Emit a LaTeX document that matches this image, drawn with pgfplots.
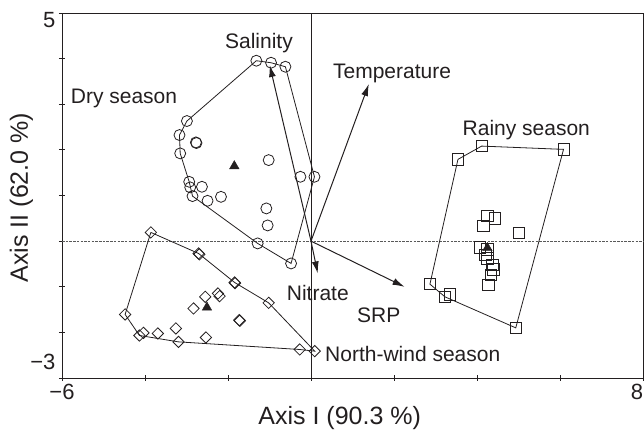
\documentclass[border=0pt]{standalone}
\usepackage{pgfplots}
\pgfplotsset{compat=1.18}
\usepackage{fontspec}
\setmainfont{Liberation Sans}
\usetikzlibrary{arrows.meta}
\definecolor{ink}{RGB}{35,31,32}
\begin{document}
\begin{tikzpicture}
\useasboundingbox (-62pt,-52pt) rectangle (582pt,378pt);
\begin{axis}[
  at={(0pt,0pt)}, anchor=south west,
  scale only axis, width=581pt, height=365pt,
  xmin=-6, xmax=8, ymin=-3, ymax=5,
  xtick={-6,-4,-2,0,2,4,6,8}, xticklabels={−6,,,,,,,\makebox[0pt][r]{8}},
  ytick={-3,-2,-1,0,1,2,3,4,5}, yticklabels={\raisebox{8pt}[0pt][0pt]{−3},,,,,,,,\raisebox{-14pt}[0pt][0pt]{5}},
  tick align=center, xtick pos=bottom, ytick pos=left, major tick length=6pt,
  tick style={ink, line width=0.8pt},
  axis line style={ink, line width=0.9pt},
  ticklabel style={font=\fontsize{22}{26}\selectfont, text=ink},
  xlabel={Axis I (90.3 \%)}, ylabel={Axis II (62.0 \%)},
  label style={font=\fontsize{25}{30}\selectfont, text=ink},
  xlabel style={at={(axis description cs:0.478,0)}, anchor=base, yshift=-47pt},
  ylabel style={at={(axis description cs:-0.0697,0.4945)}, anchor=center},
  clip=false,
]
% reference lines
\addplot[gray!70!black, line width=1pt, dash pattern=on 2.5pt off 1.2pt] coordinates {(-6,0) (8,0)};
\addplot[ink, line width=0.8pt] coordinates {(0,-3) (0,5)};

% hulls
\addplot[ink, line width=0.8pt] coordinates {
 (-1.317,3.954) (-2.99,2.632) (-3.169,2.325) (-3.152,1.923) (-2.935,1.300) (-2.855,0.987)
 (-1.286,-0.05) (-0.48,-0.489) (0.083,1.410) (-0.617,3.822) (-0.963,3.910) (-1.317,3.954)};
\addplot[ink, line width=0.8pt] coordinates {
 (-3.859,0.191) (-2.71,-0.27) (-1.841,-0.906) (-1.02,-1.353) (0.09,-2.412) (-0.272,-2.375)
 (-3.193,-2.208) (-4.134,-2.068) (-4.479,-1.607) (-3.859,0.191)};
\addplot[ink, line width=0.8pt] coordinates {
 (3.541,1.792) (4.113,2.083) (6.085,2.011) (4.934,-1.901) (3.228,-1.221) (2.866,-0.943) (3.541,1.792)};

% arrows
\addplot[ink, line width=1pt, -{Latex[length=12pt,width=7pt]}] coordinates {(0,0) (-0.996,3.86)};
\addplot[ink, line width=1pt, -{Latex[length=12pt,width=7pt]}] coordinates {(0,0) (1.393,3.443)};
\addplot[ink, line width=1pt, -{Latex[length=12pt,width=7pt]}] coordinates {(0,0) (0.163,-0.708)};
\addplot[ink, line width=1pt, -{Latex[length=12pt,width=7pt]}] coordinates {(0,0) (2.255,-1.002)};

% dry season (circles)
\addplot[only marks, mark=o, mark size=5.5pt, mark options={ink, line width=0.8pt}] coordinates {
 (-1.317,3.954) (-0.963,3.910) (-0.617,3.822) (-2.99,2.632) (-3.169,2.325) (-2.773,2.164) (-2.76,2.15)
 (-3.152,1.923) (-1.02,1.776) (-0.255,1.410) (0.083,1.410) (-2.935,1.300) (-2.91,1.178) (-2.628,1.191)
 (-2.855,0.987) (-2.493,0.884) (-2.169,0.971) (-1.076,0.717) (-1.045,0.344) (-1.286,-0.05) (-0.48,-0.489)};

% north-wind season (diamonds)
\addplot[only marks, mark=square, mark size=4pt, mark options={ink, line width=0.8pt, rotate=45}] coordinates {
 (-3.859,0.191) (-2.71,-0.27) (-2.69,-0.29) (-1.841,-0.906) (-1.83,-0.92) (-1.02,-1.353) (-2.548,-1.221)
 (-2.242,-1.147) (-2.203,-1.206) (-2.831,-1.476) (-1.728,-1.732) (-1.715,-1.745) (-4.479,-1.607)
 (-4.038,-2.011) (-4.134,-2.068) (-3.69,-2.024) (-3.256,-1.914) (-3.193,-2.208) (-2.532,-2.112)
 (-0.272,-2.375) (0.09,-2.412)};

% rainy season (squares)
\addplot[only marks, mark=square, mark size=5.6pt, mark options={ink, line width=0.8pt}] coordinates {
 (4.113,2.083) (6.085,2.011) (3.541,1.792) (4.251,0.548) (4.434,0.498) (4.154,0.336) (5.014,0.182)
 (4.072,-0.138) (4.251,-0.182) (4.2,-0.3) (4.251,-0.379) (4.372,-0.526) (4.396,-0.621) (4.331,-0.746)
 (4.275,-0.965) (2.866,-0.943) (3.341,-1.169) (3.228,-1.221) (4.934,-1.901)};

% centroids
\addplot[only marks, mark=triangle*, mark size=5.5pt, mark options={fill=ink, draw=ink}] coordinates {
 (-1.848,1.645) (-2.507,-1.454) (4.251,-0.15)};

% labels
\begin{scope}[every node/.style={font=\fontsize{21}{25}\selectfont, text=ink, inner sep=0pt}]
\node[anchor=base] at (axis cs:-1.253,4.232) {Salinity};
\node[anchor=base] at (axis cs:1.952,3.575) {Temperature};
\node[anchor=base west] at (axis cs:-5.79,3.026) {Dry season};
\node[anchor=base west] at (axis cs:3.65,2.325) {Rainy season};
\node[anchor=base west] at (axis cs:-0.586,-1.294) {Nitrate};
\node[anchor=base west] at (axis cs:1.108,-1.776) {SRP};
\node[anchor=base west] at (axis cs:0.337,-2.647) {North-wind season};
\end{scope}
\end{axis}
\end{tikzpicture}
\end{document}
